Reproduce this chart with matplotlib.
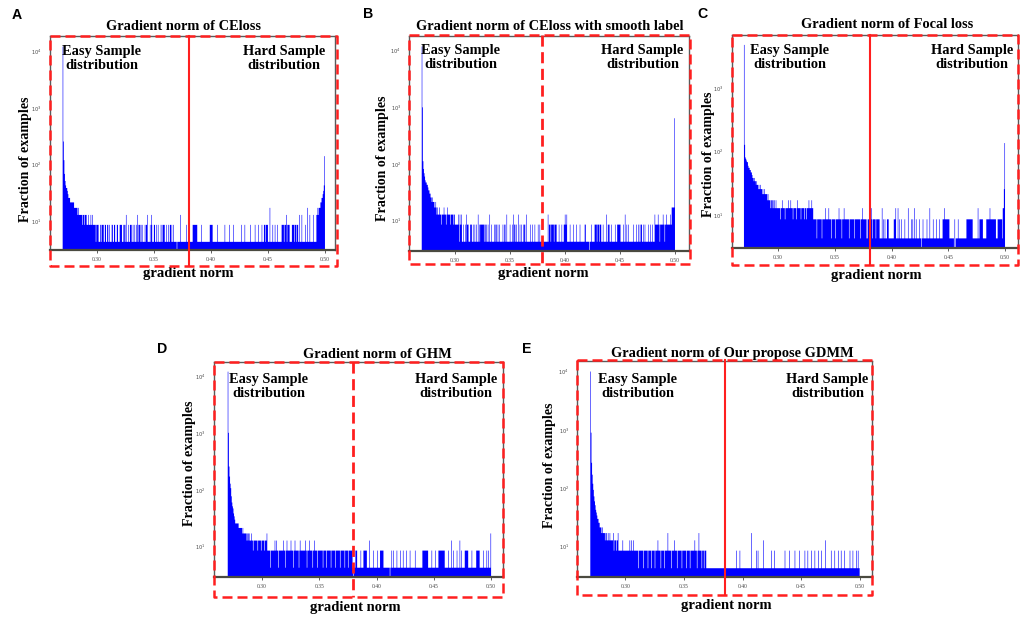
import numpy as np
import matplotlib
matplotlib.use("Agg")
import matplotlib.pyplot as plt
from matplotlib.lines import Line2D
from matplotlib.transforms import blended_transform_factory
from matplotlib.ticker import FixedLocator, NullLocator, FixedFormatter

# ---------------------------------------------------------------- data
BIN_WIDTH = 0.0005
GRAD_MIN, GRAD_MAX = 0.270, 0.500
FRACTION_PER_EXAMPLE = 4.27
FLOOR_COUNT = 1

panel_letters = ["A", "B", "C", "D", "E"]
panel_titles = ["Gradient norm of CEloss",
                "Gradient norm of CEloss with smooth label",
                "Gradient norm of Focal loss",
                "Gradient norm of GHM",
                "Gradient norm of Our propose GDMM"]
x_ticks = [0.30, 0.35, 0.40, 0.45, 0.50]
x_tick_labels = ["0.30", "0.35", "0.40", "0.45", "0.50"]
y_ticks = [1e1, 1e2, 1e3, 1e4]
y_tick_labels = [r"$10^{1}$", r"$10^{2}$", r"$10^{3}$", r"$10^{4}$"]
easy_label = "Easy Sample\ndistribution"
hard_label = "Hard Sample\ndistribution"
x_label = "gradient norm"
y_label = "Fraction of examples"
divider_x = [0.3807, 0.3790, 0.3810, 0.3797, 0.3850]

# counts per bin (bins of 0.0005 starting at 0.270)
A_head = [2880, 60, 28, 16, 12, 10, 9, 9, 8, 7, 6, 6, 6, 5, 5, 5, 5, 5, 5, 5,
          4, 4, 4, 4, 4, 4, 3, 4, 3, 3]
A_runs = [(0.2850, 0.2910, 3), (0.2910, 0.2990, 2), (0.3000, 0.3010, 2),
          (0.3030, 0.3040, 2), (0.3045, 0.3055, 2), (0.3070, 0.3080, 2),
          (0.3090, 0.3100, 2), (0.3130, 0.3140, 2), (0.3150, 0.3160, 2),
          (0.3175, 0.3185, 2), (0.3200, 0.3220, 2), (0.3240, 0.3250, 2),
          (0.3290, 0.3300, 2), (0.3370, 0.3380, 2), (0.3430, 0.3440, 2),
          (0.3500, 0.3510, 2), (0.3580, 0.3590, 2), (0.3640, 0.3650, 2),
          (0.3840, 0.3880, 2), (0.3990, 0.4015, 2), (0.4465, 0.4500, 2),
          (0.4620, 0.4690, 2), (0.4710, 0.4765, 2)]
A_lv0 = [0.3700]
A_lv1 = [0.4475, 0.4640, 0.4665, 0.4730, 0.4750]
A_lv2 = [0.2870, 0.2890, 0.2997, 0.3012, 0.3032, 0.3056, 0.3076, 0.3099, 0.3114,
         0.3135, 0.3158, 0.3178, 0.3202, 0.3216, 0.3231, 0.3275, 0.3304, 0.3319,
         0.3333, 0.3348, 0.3363, 0.3386, 0.3398, 0.3421, 0.3465, 0.3480, 0.3509,
         0.3523, 0.3538, 0.3561, 0.3573, 0.3591, 0.3611, 0.3626, 0.3640, 0.3655,
         0.3670, 0.3787, 0.3918, 0.4056, 0.4123, 0.4161, 0.4196, 0.4269, 0.4298,
         0.4348, 0.4386, 0.4415, 0.4445, 0.4541, 0.4562, 0.4582, 0.4825]
A_lv3 = [0.2925, 0.2945, 0.2960, 0.3255, 0.3356, 0.3444, 0.3479, 0.3731, 0.4664,
         0.4775, 0.4795, 0.4869, 0.4898]
A_lv4 = [0.4518, 0.4845]
A_tail = [3, 3, 4, 3, 4, 4, 4, 5, 5, 6, 6, 7, 8, 10, 33]

B_head = [2700, 230, 26, 19, 16, 14, 12, 11, 11, 10, 10, 9, 8, 8, 7, 7, 6, 6, 5, 6,
          5, 5, 5, 4, 4, 5, 4, 3, 4, 3]
B_runs = [(0.2850, 0.3000, 3), (0.3000, 0.3030, 2), (0.3050, 0.3060, 2),
          (0.3110, 0.3120, 2), (0.3140, 0.3150, 2), (0.3233, 0.3265, 2),
          (0.3270, 0.3280, 2), (0.3370, 0.3380, 2), (0.3450, 0.3460, 2),
          (0.3540, 0.3550, 2), (0.3630, 0.3640, 2), (0.3860, 0.3870, 2),
          (0.3879, 0.3925, 2), (0.3991, 0.4015, 2), (0.4180, 0.4190, 2),
          (0.4273, 0.4333, 2), (0.4390, 0.4400, 2), (0.4476, 0.4506, 2),
          (0.4690, 0.4700, 2), (0.4818, 0.4970, 2), (0.4970, 0.4995, 4)]
B_lv0 = [0.4221]
B_lv1 = [0.3900, 0.4290, 0.4310, 0.4860, 0.4905]
B_lv2 = [0.2875, 0.2920, 0.2960, 0.2985, 0.3039, 0.3076, 0.3097, 0.3121, 0.3152,
         0.3167, 0.3182, 0.3197, 0.3221, 0.3288, 0.3303, 0.3333, 0.3364, 0.3394,
         0.3409, 0.3439, 0.3500, 0.3521, 0.3561, 0.3591, 0.3606, 0.3621, 0.3688,
         0.3706, 0.3727, 0.3758, 0.3773, 0.3857, 0.3948, 0.3970, 0.4045, 0.4076,
         0.4106, 0.4136, 0.4242, 0.4348, 0.4409, 0.4424, 0.4455, 0.4530, 0.4561,
         0.4576, 0.4621, 0.4652, 0.4667, 0.4682, 0.4712, 0.4727, 0.4758, 0.4779,
         0.4797]
B_lv3 = [0.3030, 0.3045, 0.3061, 0.3106, 0.3212, 0.3318, 0.3470, 0.3530, 0.3576,
         0.3652, 0.3848, 0.4000, 0.4015, 0.4379, 0.4545, 0.4818, 0.4848, 0.4894,
         0.4924, 0.4955]
B_lv4 = [0.2864, 0.2903, 0.2933]
B_tail = [148]

C_head = [1135, 30, 19, 18, 17, 16, 16, 14, 13, 13, 12, 12, 11, 11, 10, 9, 9, 8, 9, 8,
          8, 7, 8, 7, 7, 6, 7, 6, 6, 7, 6, 6, 5, 6, 5, 5, 6, 5, 5, 5,
          5, 4, 5, 4, 4, 4, 3, 4, 4, 3, 4, 4, 3, 4, 3, 3, 4, 3, 3, 3]
C_runs = [(0.3000, 0.3310, 3), (0.3310, 0.3780, 2), (0.3793, 0.3896, 2),
          (0.3960, 0.3975, 2), (0.4020, 0.4035, 2), (0.4454, 0.4512, 2),
          (0.4660, 0.4718, 2), (0.4777, 0.4806, 2), (0.4836, 0.4924, 2),
          (0.4939, 0.4977, 2)]
C_lv0 = [0.4262, 0.4550, 0.4560]
C_lv1 = [0.3340, 0.3385, 0.3470, 0.3508, 0.3560, 0.3625, 0.3670, 0.3728, 0.3830,
         0.3860]
C_lv2 = [0.3020, 0.3060, 0.3130, 0.3160, 0.3200, 0.3230, 0.3250, 0.3925, 0.3940,
         0.4072, 0.4087, 0.4116, 0.4175, 0.4189, 0.4219, 0.4248, 0.4277, 0.4313,
         0.4366, 0.4395, 0.4424, 0.4557, 0.4586]
C_lv3 = [0.3419, 0.3449, 0.3537, 0.3581, 0.3743, 0.3822, 0.3919, 0.4037, 0.4058,
         0.4145, 0.4204, 0.4336, 0.4468, 0.4762, 0.4865]
C_lv4 = [0.3039, 0.3090, 0.3111, 0.3170, 0.3273, 0.3296]
C_tail = [3, 3, 6, 32]

D_head = [2790, 235, 60, 40, 30, 25, 18, 14, 12, 11, 9, 8, 7, 6, 6, 6, 6, 6, 6, 5,
          5, 5, 5, 5, 5, 4, 5, 4, 4, 4, 4, 4, 4, 3, 4, 3, 3, 4, 3, 3]
D_runs = [(0.2900, 0.3040, 3), (0.3040, 0.3790, 2), (0.3817, 0.3831, 2),
          (0.3889, 0.3918, 2), (0.4034, 0.4063, 2), (0.4400, 0.4453, 2),
          (0.4540, 0.4598, 2), (0.4773, 0.4802, 2), (0.4874, 0.4904, 2)]
D_lv0 = [0.3797, 0.4118]
D_lv1 = [0.3070, 0.3140, 0.3200, 0.3270, 0.3320, 0.3390, 0.3440, 0.3480, 0.3530,
         0.3560, 0.3600, 0.3640, 0.3680, 0.3720, 0.3750]
D_lv2 = [0.2920, 0.2960, 0.2990, 0.3020, 0.3860, 0.3970, 0.4005, 0.4132, 0.4147,
         0.4176, 0.4205, 0.4234, 0.4263, 0.4292, 0.4336, 0.4482, 0.4511, 0.4627,
         0.4671, 0.4700, 0.4743, 0.4831, 0.4933, 0.4962, 0.4977]
D_lv3 = [0.3113, 0.3128, 0.3186, 0.3215, 0.3253, 0.3288, 0.3331, 0.3375, 0.3410,
         0.3457, 0.3937, 0.4650, 0.4729]
D_lv4 = [0.2880, 0.2905, 0.3040]
D_tail = [4]

E_head = [2340, 210, 64, 40, 28, 22, 17, 14, 12, 10, 9, 8, 7, 7, 6, 6, 5, 5, 5, 4,
          5, 4, 4, 4, 4, 3, 4, 4, 3, 3, 4, 3, 3, 4, 3, 3, 3, 3]
E_runs = [(0.2885, 0.2940, 3), (0.2940, 0.3690, 2)]
E_lv0 = []
E_lv1 = [0.3110, 0.3150, 0.3190, 0.3220, 0.3250, 0.3300, 0.3330, 0.3390, 0.3440,
         0.3480, 0.3520, 0.3550, 0.3610, 0.3650, 0.3670]
E_lv2 = [0.2900, 0.2920, 0.3947, 0.3975, 0.4118, 0.4132, 0.4246, 0.4274, 0.4360,
         0.4402, 0.4445, 0.4488, 0.4531, 0.4559, 0.4588, 0.4616, 0.4645, 0.4673,
         0.4759, 0.4787, 0.4815, 0.4844, 0.4873, 0.4915, 0.4944, 0.4972, 0.4987]
E_lv3 = [0.2979, 0.3036, 0.3050, 0.3065, 0.3278, 0.3415, 0.3591, 0.4175, 0.4707]
E_lv4 = [0.2895, 0.2936, 0.3363, 0.3628, 0.4075]
E_tail = []

panels_data = [
    (A_head, A_runs, [A_lv0, A_lv1, A_lv2, A_lv3, A_lv4], A_tail),
    (B_head, B_runs, [B_lv0, B_lv1, B_lv2, B_lv3, B_lv4], B_tail),
    (C_head, C_runs, [C_lv0, C_lv1, C_lv2, C_lv3, C_lv4], C_tail),
    (D_head, D_runs, [D_lv0, D_lv1, D_lv2, D_lv3, D_lv4], D_tail),
    (E_head, E_runs, [E_lv0, E_lv1, E_lv2, E_lv3, E_lv4], E_tail),
]

# ---------------------------------------------------------------- layout (pixels)
W, H = 1021, 617
axes_px = [(50, 36, 335, 250), (409.3, 36, 689.3, 250.7), (731.7, 35, 1018.3, 248.3),
           (214, 361.7, 503, 577.3), (577.3, 361, 872.3, 577.3)]
xlims = [(0.2589, 0.5088), (0.2587, 0.5130), (0.2592, 0.5117),
         (0.2580, 0.5104), (0.2589, 0.5108)]
ylims_log = [(0.486, 4.278), (0.473, 4.246), (0.474, 3.842),
             (0.462, 4.251), (0.475, 4.180)]
box_px = [(50, 36, 337, 265.7), (409.3, 35, 690, 264), (731.7, 35, 1018, 265),
          (214, 361.7, 503.3, 597.3), (577.3, 360.3, 872.3, 595)]
divider_dashed = [False, True, False, True, False]
title_px = [(184, 30), (550, 30), (886.7, 28.3), (377.6, 358.3), (732.5, 356.7)]
xlabel_px = [(188, 274), (543, 274), (876.5, 276), (355, 607), (726.5, 605)]
ylabel_px = [(25, 159.5), (382, 158), (708.5, 154), (189, 463.5), (549.5, 465)]
letter_px = [(12, 19), (363, 18.5), (697, 18.5), (157, 353), (522, 353)]
easy_x = [0.3044, 0.3053, 0.3105, 0.3055, 0.3103]
hard_x = [0.4641, 0.4705, 0.4709, 0.4692, 0.4726]
label_top_px = [12, 11.7, 12, 14.3, 15]

SERIF = ["Liberation Serif", "DejaVu Serif"]
SANS = ["Liberation Sans", "DejaVu Sans"]
RED = "#ff1f1f"
BLUE = "#0000ff"


def fx(x):
    return x / W


def fy(y):
    return 1 - y / H


def build_counts(head, runs, levels, tail):
    n = int(round((GRAD_MAX - GRAD_MIN) / BIN_WIDTH))
    counts = np.full(n, FLOOR_COUNT, dtype=float)
    counts[:len(head)] = head

    def idx(x):
        return int(np.floor((x - GRAD_MIN) / BIN_WIDTH + 1e-6))

    for x0, x1, lev in runs:
        counts[idx(x0):idx(x1)] = lev
    for lev, xs in enumerate(levels):
        for x in xs:
            counts[idx(x)] = lev
    if len(tail):
        counts[n - len(tail):] = tail
    edges = GRAD_MIN + BIN_WIDTH * np.arange(n + 1)
    return edges, counts


fig = plt.figure(figsize=(W / 100, H / 100), dpi=100)

for i in range(5):
    l, t, r, b = axes_px[i]
    ax = fig.add_axes([fx(l), fy(b), (r - l) / W, (b - t) / H])
    edges, counts = build_counts(*panels_data[i])
    heights = np.where(counts > 0, counts * FRACTION_PER_EXAMPLE, 0.1)
    st = ax.stairs(heights, edges, fill=True, color=BLUE, baseline=0.1,
                   linewidth=0)
    st.set_snap(False)
    st.set_antialiased(True)
    ax.set_yscale("log")
    ax.set_xlim(*xlims[i])
    ax.set_ylim(10 ** ylims_log[i][0], 10 ** ylims_log[i][1])

    ax.xaxis.set_major_locator(FixedLocator(x_ticks))
    ax.xaxis.set_major_formatter(FixedFormatter(x_tick_labels))
    yt = [v for v in y_ticks if v < 10 ** ylims_log[i][1]]
    ax.yaxis.set_major_locator(FixedLocator(yt))
    ax.yaxis.set_major_formatter(FixedFormatter(y_tick_labels[:len(yt)]))
    ax.yaxis.set_minor_locator(NullLocator())
    ax.tick_params(axis="x", length=2, width=0.6, pad=3, labelsize=4,
                   colors="#444444")
    ax.tick_params(axis="y", length=0, pad=6, labelsize=3.6, colors="#444444")
    for lab in ax.get_xticklabels() + ax.get_yticklabels():
        lab.set_fontfamily(SERIF)
    for side, sp in ax.spines.items():
        sp.set_color("#5a5a5a")
        sp.set_linewidth(1.0)
    ax.spines["bottom"].set_linewidth(1.6)
    ax.spines["bottom"].set_color("#4a4a40")

    # easy / hard annotations
    ah = b - t
    ytop = 1 - (label_top_px[i] - 3.4) / ah
    tr_ax = blended_transform_factory(ax.transData, ax.transAxes)
    ax.text(easy_x[i], ytop, easy_label, transform=tr_ax,
            ha="center", va="top", fontsize=10.4, fontweight="bold",
            family=SERIF, linespacing=1.1, multialignment="center")
    ax.text(hard_x[i], ytop, hard_label, transform=tr_ax,
            ha="center", va="top", fontsize=10.4, fontweight="bold",
            family=SERIF, linespacing=1.1, multialignment="center")

    # red dashed frame
    bl, bt, br, bb = box_px[i]
    fig.add_artist(Line2D([fx(bl), fx(br), fx(br), fx(bl), fx(bl)],
                          [fy(bt), fy(bt), fy(bb), fy(bb), fy(bt)],
                          transform=fig.transFigure, color=RED, linewidth=1.8,
                          linestyle=(0, (4, 2)), zorder=5))
    # divider between easy and hard samples
    tr = blended_transform_factory(ax.transData, fig.transFigure)
    if divider_dashed[i]:
        fig.add_artist(Line2D([divider_x[i], divider_x[i]], [fy(bt), fy(bb)],
                              transform=tr, color=RED, linewidth=2.0,
                              linestyle=(0, (4, 2)), zorder=5))
    else:
        fig.add_artist(Line2D([divider_x[i], divider_x[i]], [fy(bt), fy(bb)],
                              transform=tr, color=RED, linewidth=1.5,
                              linestyle="-", zorder=5))

    # titles and labels
    fig.text(fx(title_px[i][0]), fy(title_px[i][1]), panel_titles[i],
             ha="center", va="baseline", fontsize=10.4, fontweight="bold",
             family=SERIF)
    fig.text(fx(xlabel_px[i][0]), fy(xlabel_px[i][1]), x_label,
             ha="center", va="center", fontsize=10.5, fontweight="bold",
             family=SERIF)
    fig.text(fx(ylabel_px[i][0]), fy(ylabel_px[i][1]), y_label,
             ha="center", va="center", rotation=90, fontsize=10.1,
             fontweight="bold", family=SERIF)
    fig.text(fx(letter_px[i][0]), fy(letter_px[i][1]), panel_letters[i],
             ha="left", va="baseline", fontsize=10.2, fontweight="bold",
             family=SANS)

fig.savefig("out.png", dpi=100, facecolor="white")
